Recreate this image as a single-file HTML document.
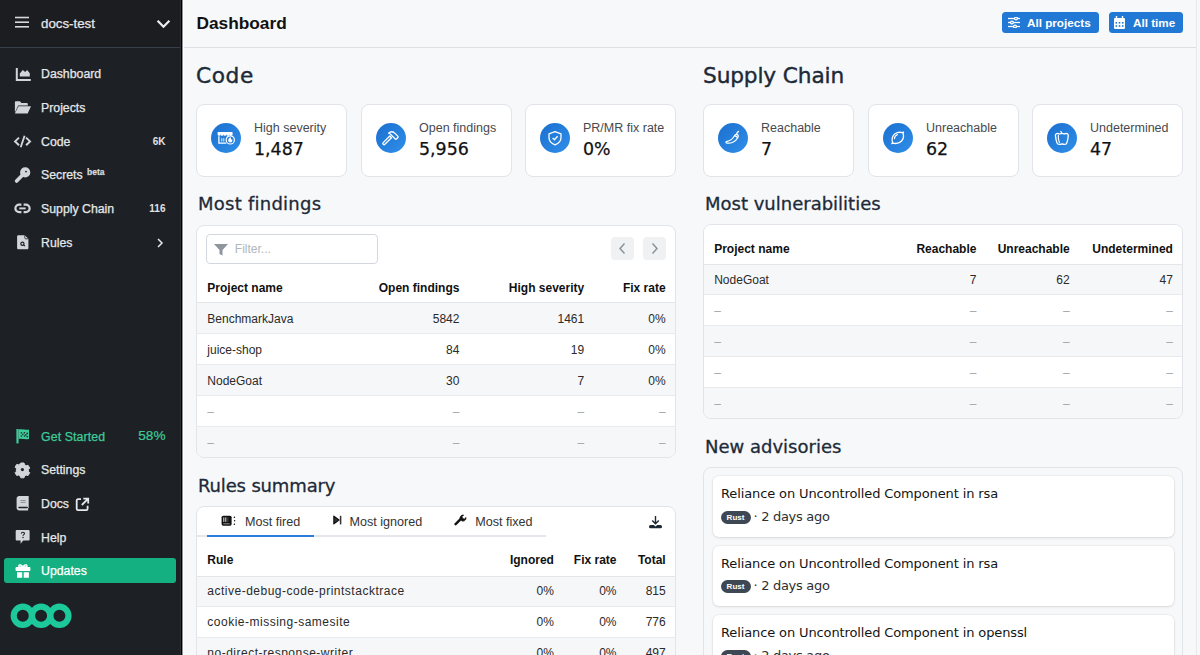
<!DOCTYPE html>
<html><head><meta charset="utf-8"><title>Dashboard</title>
<style>
*{box-sizing:border-box;margin:0;padding:0}
html,body{width:1200px;height:655px;overflow:hidden}
body{font-family:"Liberation Sans",Arial,sans-serif;background:#f7f8fa;color:#111;position:relative}
.abs{position:absolute}
/* sidebar */
#sb{position:absolute;left:0;top:0;width:181px;height:655px;background:#1d2125}
#sbline{position:absolute;left:180px;top:0;width:4px;height:655px;background:linear-gradient(90deg,#2a2e33 0,#2a2e33 1px,#000 1px,#000 2px,#8e8f90 2px,#8e8f90 3px,#fff 3px)}
#sbhead{position:absolute;left:0;top:0;width:180px;height:48px;background:#1c1d21;border-bottom:1px solid #35404c}
.nav{position:absolute;left:0;width:181px;height:24px;color:#e6e8ea;font-size:12.3px;line-height:26px;-webkit-text-stroke:.25px currentColor}
.nav .ic{position:absolute;left:14px;top:4px;width:18px;height:18px;overflow:visible}
.nav .tx{position:absolute;left:41px;top:0}
.nav .ct{position:absolute;right:15.5px;top:-.5px;font-size:10px;font-weight:bold;color:#e0e2e4;-webkit-text-stroke:0}
/* main */
#hdr{position:absolute;left:184px;top:0;width:1015px;height:48px;border-bottom:1px solid #dde0e4;background:#f7f8fa}
#scroll{position:absolute;left:1196px;top:0;width:4px;height:655px;background:#f7f8fa;border-left:1px solid #e8e9eb}
.btn{position:absolute;top:12px;height:21px;background:#2179d5;border-radius:3.5px;color:#fff;font-weight:bold;font-size:11.7px;line-height:22px}
h2{position:absolute;font-family:"DejaVu Sans",sans-serif;font-weight:normal;color:#1d2a38;-webkit-text-stroke:.4px #1d2a38;font-size:21px;line-height:26px;white-space:nowrap}
h3{position:absolute;font-family:"DejaVu Sans",sans-serif;font-weight:normal;color:#1d2a38;-webkit-text-stroke:.3px #1d2a38;font-size:18px;line-height:22px;white-space:nowrap}
.card{position:absolute;background:#fff;border:1px solid #e1e4e8;border-radius:8px}
.stat{top:104px;height:73px;width:151px}
.stat .circ{position:absolute;left:13.7px;top:18px;width:30px;height:30px;border-radius:50%;background:linear-gradient(135deg,#1b6fcf,#2f8fe9)}
.stat .circ svg{position:absolute;left:0;top:0;width:30px;height:30px}
.stat .lb{position:absolute;left:57px;top:16px;font-size:12.5px;color:#474a4e;white-space:nowrap}
.stat .val{position:absolute;left:57px;top:34.4px;font-family:"DejaVu Sans",sans-serif;font-size:17.4px;line-height:20px;color:#111;white-space:nowrap;-webkit-text-stroke:.25px #111}
table{border-collapse:collapse;width:100%;font-size:12px}
td,th{padding:0 10px;height:31px;white-space:nowrap;text-align:right}
th{font-weight:bold;color:#111;border-bottom:1.5px solid #e4e7ea}
td{color:#2c2c2c;border-bottom:1px solid #e9ebee}
td:first-child,th:first-child{text-align:left}
tr.s td{background:#f6f7f9}
td.d{color:#9aa0a6}

.tr{position:absolute;left:0;width:480px;border-bottom:1px solid #e8eaed;font-size:12px;color:#2a2a2a}
.tr.last{border-bottom:0}
.tr.th{border-bottom:1.5px solid #e3e6e9;font-weight:bold;color:#111;background:#fff}
.c{position:absolute;top:50%;transform:translateY(-50%);white-space:nowrap;line-height:14px}
.c.d{color:#a3a8ad}
.filter{position:absolute;left:8.5px;top:8px;width:172.5px;height:30px;border:1px solid #d3d8de;border-radius:4px;font-size:12px;line-height:14px}
.pg{position:absolute;top:11px;width:23px;height:23px;background:#eff1f3;border-radius:4px}
.pg svg{display:block}
.tab{position:absolute;top:7.5px;font-size:12.6px;line-height:15px;color:#333;white-space:nowrap}
.adv{position:absolute;left:8.5px;width:461px;height:60.5px;background:#fff;border-radius:6px;box-shadow:0 0 0 1px rgba(0,0,0,.03),0 1px 3px rgba(0,0,0,.1)}
.adv .t{position:absolute;left:8.5px;top:10px;font-family:"DejaVu Sans",sans-serif;font-size:13px;letter-spacing:-.12px;color:#151515;white-space:nowrap;line-height:16px}
.adv .b{position:absolute;left:8px;top:34.5px;width:30px;height:13px;border-radius:7px;background:#3e4854;color:#fff;font-size:8px;font-weight:bold;line-height:13px;text-align:center}
.adv .m{position:absolute;left:41px;top:32.5px;font-family:"DejaVu Sans",sans-serif;font-size:13px;letter-spacing:-.3px;color:#2e2e2e;white-space:nowrap;line-height:16px}
</style></head><body>
<div id="sb"></div>
<div id="sbhead"></div>
<div id="sbline"></div>

<!-- sidebar header -->
<svg class="abs" style="left:15px;top:16px" width="15" height="13" viewBox="0 0 15 13"><g stroke="#d6d8da" stroke-width="1.6"><line x1="0" y1="1.5" x2="14" y2="1.5"/><line x1="0" y1="6.2" x2="14" y2="6.2"/><line x1="0" y1="10.8" x2="14" y2="10.8"/></g></svg>
<div class="abs" style="left:41px;top:15px;font-size:13.3px;line-height:18px;color:#e6e8ea;-webkit-text-stroke:.25px #e6e8ea">docs-test</div>
<svg class="abs" style="left:156px;top:19px" width="15" height="10" viewBox="0 0 15 10"><path d="M1.6 1.8L7.5 7.7l5.9-5.9" fill="none" stroke="#eceef0" stroke-width="2.3"/></svg>

<!-- nav -->
<div class="nav" style="top:61px"><svg class="ic" viewBox="0 0 18 18"><g transform="translate(.8 0)"><path d="M2 3v11.9h14" fill="none" stroke="#d2d5d9" stroke-width="2"/><path d="M5 11.6V8.4L8 4.9l2.4 2.1 1.9-2.1L15 8.2v3.4z" fill="#d2d5d9"/></g></svg><span class="tx">Dashboard</span></div>
<div class="nav" style="top:95px"><svg class="ic" viewBox="0 0 18 18"><path d="M.9 13.5V3.3c0-.6.5-1.1 1.1-1.1h3.8l1.7 1.7h5.2c.6 0 1.1.5 1.1 1.1v1.6H4.2z" fill="#d2d5d9"/><path d="M4.5 7.2H17l-3.3 7.4H.9z" fill="#d2d5d9"/></svg><span class="tx">Projects</span></div>
<div class="nav" style="top:129px"><svg class="ic" viewBox="0 0 18 18"><path d="M5 4.6L1.1 8.4 5 12.2M12.1 4.6L16 8.4l-3.9 3.8" fill="none" stroke="#d2d5d9" stroke-width="2"/><path d="M10.6 2.8L6.7 14.2" stroke="#d2d5d9" stroke-width="1.9"/></svg><span class="tx">Code</span><span class="ct">6K</span></div>
<div class="nav" style="top:162px"><svg class="ic" viewBox="0 0 18 18"><circle cx="11.2" cy="6.4" r="5.1" fill="#d2d5d9"/><circle cx="12" cy="5.6" r=".9" fill="#1e2226"/><path d="M8.3 9.3L2.6 15" stroke="#d2d5d9" stroke-width="3.6" stroke-linecap="round"/></svg><span class="tx">Secrets</span><span class="abs" style="left:87px;top:-3px;font-size:8.5px;font-weight:bold;color:#d8dadc">beta</span></div>
<div class="nav" style="top:196px"><svg class="ic" viewBox="0 0 18 18"><path d="M7.4 4.6H5.2a3.8 3.8 0 0 0 0 7.6h2.2M9.6 4.6h2.2a3.8 3.8 0 0 1 0 7.6H9.6" fill="none" stroke="#d2d5d9" stroke-width="2.2"/><path d="M5.3 8.4h6.4" stroke="#d2d5d9" stroke-width="1.9"/></svg><span class="tx">Supply Chain</span><span class="ct">116</span></div>
<div class="nav" style="top:230px"><svg class="ic" viewBox="0 0 18 18"><path d="M4.4 1.2h6.4l3.6 3.6v9.1c0 .7-.6 1.3-1.3 1.3H4.4c-.7 0-1.3-.6-1.3-1.3V2.5c0-.7.6-1.3 1.3-1.3z" fill="#d2d5d9"/><path d="M10.8 1.2v2.8c0 .4.4.8.8.8h2.8" fill="none" stroke="#1e2226" stroke-width=".8"/><circle cx="8.4" cy="9.7" r="1.6" fill="none" stroke="#1e2226" stroke-width="1.2"/><path d="M9.6 10.9l1.3 1.3" stroke="#1e2226" stroke-width="1.2"/></svg><span class="tx">Rules</span><svg class="abs" style="left:156px;top:8px" width="8" height="10" viewBox="0 0 8 10"><path d="M2 1l4 4-4 4" fill="none" stroke="#e6e8ea" stroke-width="1.5"/></svg></div>

<div class="nav" style="top:424px;color:#3ecb99"><svg class="ic" viewBox="0 0 18 18"><path d="M3.5 1v14.4" stroke="#3ecb99" stroke-width="2.2"/><path d="M4.6 1.6c3.5-.9 6.9.8 10.4 0v9.4c-3.5.9-6.9-.8-10.4 0z" fill="#3ecb99"/><g fill="#1e2226"><circle cx="7.3" cy="4.7" r=".8"/><circle cx="10.4" cy="4.7" r=".8"/><circle cx="13.2" cy="5.4" r=".8"/><circle cx="8.8" cy="6.2" r=".8"/><circle cx="11.8" cy="6.9" r=".8"/><circle cx="7.3" cy="8" r=".8"/><circle cx="10.4" cy="8" r=".8"/><circle cx="13.2" cy="8.6" r=".8"/></g></svg><span class="tx" style="letter-spacing:.12px">Get Started</span><span class="ct" style="font-size:13.6px;font-weight:normal;color:#3ecb99;right:15.5px;top:-1px;-webkit-text-stroke:.2px #3ecb99">58%</span></div>
<div class="nav" style="top:457px"><svg class="ic" viewBox="0 0 18 18"><g transform="translate(8.4 8.6)"><path d="M-1.6-6.6h3.2l.6 1.8 1.6.9 1.9-.4 1.6 2.8-1.3 1.4v1.8l1.3 1.4-1.6 2.8-1.9-.4-1.6.9-.6 1.8h-3.2l-.6-1.8-1.6-.9-1.9.4-1.6-2.8 1.3-1.4V-1l-1.3-1.4 1.6-2.8 1.9.4 1.6-.9z" fill="#d2d5d9" stroke="#d2d5d9" stroke-width="1" stroke-linejoin="round"/><circle r="1.6" fill="#1e2226"/></g></svg><span class="tx">Settings</span></div>
<div class="nav" style="top:491px"><svg class="ic" viewBox="0 0 18 18"><path d="M5.2 1.1h9.5v11.6c0 .4-.3.6-.6.7v2h.6v0H5.2c-1.4 0-2.6-1.1-2.6-2.6V3.7c0-1.4 1.2-2.6 2.6-2.6z" fill="#d2d5d9"/><path d="M6.5 5.5h5.2M6.5 7.4h5.2" stroke="#8d9196" stroke-width="1"/><path d="M5 12.5h8.2" stroke="#1e2226" stroke-width="1.4" stroke-linecap="round"/></svg><span class="tx">Docs</span><svg class="abs" style="left:75px;top:5.5px" width="15" height="15" viewBox="0 0 15 15"><path d="M6 2.2H3A1.3 1.3 0 0 0 1.7 3.5v8.3A1.3 1.3 0 0 0 3 13.1h8.3a1.3 1.3 0 0 0 1.3-1.3V8.8" fill="none" stroke="#e6e8ea" stroke-width="1.8"/><path d="M8.3 1.6h4.9v4.9M13.2 1.6L6.8 8" fill="none" stroke="#e6e8ea" stroke-width="1.8"/></svg></div>
<div class="nav" style="top:525px"><svg class="ic" viewBox="0 0 18 18"><path d="M2.9 1.1h11.5c.7 0 1.2.5 1.2 1.2v8.1c0 .7-.5 1.2-1.2 1.2H9.2l-2.6 3.1v-3.1H2.9c-.7 0-1.2-.5-1.2-1.2V2.3c0-.7.5-1.2 1.2-1.2z" fill="#d2d5d9"/><path d="M7.2 4.6c.1-1 .9-1.4 1.7-1.4.9 0 1.6.6 1.6 1.3 0 1.1-1.5 1.1-1.5 2.3" fill="none" stroke="#1e2226" stroke-width="1.1"/><circle cx="9" cy="8.5" r=".75" fill="#1e2226"/></svg><span class="tx">Help</span></div>
<div class="abs" style="left:4px;top:558px;width:172px;height:25px;background:#14b082;border-radius:3px"></div>
<div class="nav" style="top:558px;height:25px;line-height:25px;color:#fff"><svg class="ic" style="top:5px" viewBox="0 0 18 18"><path d="M2 4.5h13.9v3H2z" fill="#fff" stroke="#fff" stroke-width="1" stroke-linejoin="round"/><path d="M3 9.2h5.2v5.6H3zM9.7 9.2h5.2v5.6H9.7z" fill="#fff"/><path d="M8.9 4.3C7.9 1.8 5.2 1.2 4.8 2.6c-.3 1.1 1.3 1.9 4.1 1.9 2.8 0 4.4-.8 4.1-1.9-.4-1.4-3.1-.8-4.1 1.7z" fill="none" stroke="#fff" stroke-width="1.4"/></svg><span class="tx" style="top:1px">Updates</span></div>
<!-- logo -->
<svg class="abs" style="left:10px;top:602.5px" width="63" height="26" viewBox="0 0 63 26"><g fill="none" stroke="#1dc89b" stroke-width="6.2"><circle cx="12.8" cy="12.8" r="9.1"/><circle cx="31.1" cy="12.8" r="9.1"/><circle cx="49.4" cy="12.8" r="9.1"/></g></svg>

<!-- main header -->
<div id="hdr"></div>
<div id="scroll"></div>
<div class="abs" style="left:196.5px;top:11.6px;font-size:17.3px;font-weight:bold;line-height:22px;color:#111">Dashboard</div>
<div class="btn" style="left:1002px;width:97px"><svg class="abs" style="left:6px;top:5px" width="12" height="11" viewBox="0 0 12 11"><g stroke="#fff" stroke-width="1.3" fill="#1f79d4"><line x1="0" y1="1.5" x2="12" y2="1.5"/><line x1="0" y1="5.5" x2="12" y2="5.5"/><line x1="0" y1="9.5" x2="12" y2="9.5"/><circle cx="8" cy="1.5" r="1.4"/><circle cx="4" cy="5.5" r="1.4"/><circle cx="7" cy="9.5" r="1.4"/></g></svg><span class="abs" style="left:25px">All projects</span></div>
<div class="btn" style="left:1109px;width:74px"><svg class="abs" style="left:5px;top:4px" width="11" height="13" viewBox="0 0 11 13"><path d="M0 3a1 1 0 0 1 1-1h9a1 1 0 0 1 1 1v9a1 1 0 0 1-1 1H1a1 1 0 0 1-1-1z" fill="#fff"/><path d="M2.5 0v3M8.5 0v3" stroke="#fff" stroke-width="1.4"/><g fill="#1f79d4"><rect x="1.5" y="6" width="1.6" height="1.6"/><rect x="4.7" y="6" width="1.6" height="1.6"/><rect x="7.9" y="6" width="1.6" height="1.6"/><rect x="1.5" y="9.2" width="1.6" height="1.6"/><rect x="4.7" y="9.2" width="1.6" height="1.6"/><rect x="7.9" y="9.2" width="1.6" height="1.6"/></g></svg><span class="abs" style="left:24px">All time</span></div>

<!-- Code section -->
<h2 style="left:196px;top:63.3px;font-size:21.7px;letter-spacing:.6px">Code</h2>
<h2 style="left:703px;top:63.3px;font-size:21.7px;letter-spacing:-.14px">Supply Chain</h2>

<div class="card stat" style="left:196px"><div class="circ"><svg viewBox="0 0 30 30"><path d="M6.9 9.1h14.2c.3 0 .5.2.5.5v1.7a1.5 1.5 0 0 1-3 0 1.5 1.5 0 0 1-3 0 1.5 1.5 0 0 1-3 0 1.5 1.5 0 0 1-3 0 1.5 1.5 0 0 1-3 0V9.6c0-.3.2-.5.5-.5z" fill="#fff"/><path d="M7.9 13.2v7h7.4" fill="none" stroke="#fff" stroke-width="1.3"/><path d="M10.8 15.2v3.3M12.8 15.2v3.3" stroke="#fff" stroke-width=".9"/><circle cx="19.3" cy="16.9" r="4.1" fill="#2882de" stroke="#fff" stroke-width="1.2"/><path d="M19.3 14.1c-1.3 1.3-2.1 2.3-2.1 3.3a2.1 2.1 0 0 0 4.2 0c0-.5-.2-1-.5-1.4-.3.5-.7.7-1 .6.3-.9 0-1.7-.6-2.5z" fill="#fff"/></svg></div><div class="lb">High severity</div><div class="val">1,487</div></div>
<div class="card stat" style="left:361px"><div class="circ"><svg viewBox="0 0 30 30"><path d="M7.2 19.6l6.6-6.6 1.7 1.7-6.6 6.6a1.2 1.2 0 0 1-1.7-1.7z" fill="none" stroke="#fff" stroke-width="1.3" stroke-linejoin="round"/><path d="M12.6 10.2c1.6-1.6 4.2-1.7 5.9-.3l3.2 3.2c.5.5.5 1.2 0 1.7l-1 1c-.5.5-1.2.5-1.7 0l-5.9-5.9z" fill="none" stroke="#fff" stroke-width="1.3" stroke-linejoin="round"/></svg></div><div class="lb">Open findings</div><div class="val">5,956</div></div>
<div class="card stat" style="left:525px"><div class="circ"><svg viewBox="0 0 30 30"><path d="M15 8.6l6 2.3v3.7c0 3.5-2.5 6-6 7.3-3.5-1.3-6-3.8-6-7.3v-3.7z" fill="none" stroke="#fff" stroke-width="1.3" stroke-linejoin="round"/><path d="M12.6 14.9l1.8 1.8 3.2-3.4" fill="none" stroke="#fff" stroke-width="1.3"/></svg></div><div class="lb">PR/MR fix rate</div><div class="val">0%</div></div>

<div class="card stat" style="left:703px"><div class="circ"><svg viewBox="0 0 30 30"><path d="M8.3 19.9c3.2 1 9.2-.3 11.7-5.6.8-1.7-.2-3.2-1.7-2.9-1.3.3-1.9 1.3-2.5 2.3-1.6 2.7-4.3 4.2-6.9 4.6-1 .2-1.3 1.3-.6 1.6z" fill="none" stroke="#fff" stroke-width="1.25" stroke-linejoin="round"/><path d="M18.6 11.3c.2-1.4 1-2.4 2-2.9M16.6 12.6c1.1.3 2.2.9 3 2" fill="none" stroke="#fff" stroke-width="1.2" stroke-linecap="round"/></svg></div><div class="lb">Reachable</div><div class="val">7</div></div>
<div class="card stat" style="left:868px"><div class="circ"><svg viewBox="0 0 30 30"><path d="M8.8 20.7l.8-1.5c-1.3-2.7-.1-6.7 2.4-8.4 2.3-1.5 5-1.8 7.2-1.2l1.4-.5-.5 1.5c.8 2.4.1 5.4-1.6 7.4-2 2.2-5.8 3-8.2 2.1z" fill="none" stroke="#fff" stroke-width="1.3" stroke-linejoin="round"/><path d="M11.4 15.6c.2-2 1.5-3.5 3.2-4.2" fill="none" stroke="#fff" stroke-width="1.1" stroke-linecap="round"/></svg></div><div class="lb">Unreachable</div><div class="val">62</div></div>
<div class="card stat" style="left:1032px"><div class="circ"><svg viewBox="0 0 30 30"><path d="M8.4 12.4c-.2-1.7 2.3-2.4 4.3-1.4 1.2-.6 3.2-.6 4.4 0 2-1 4.4-.3 4.2 1.4-.2 2.7-.6 5.7-1.8 8.3-1.4 1-3 .7-4.2.2-1.4.5-3.4.8-4.9-.2-1.2-2.6-1.8-5.6-2-8.3z" fill="none" stroke="#fff" stroke-width="1.3" stroke-linejoin="round"/><path d="M14.8 10.7c0-1-.4-1.8-1-2.4M11.3 12.4c-.2 2.7.3 5.2 1.1 7.2" fill="none" stroke="#fff" stroke-width="1.2" stroke-linecap="round"/></svg></div><div class="lb">Undetermined</div><div class="val">47</div></div>

<h3 style="left:198px;top:193.2px;letter-spacing:.25px">Most findings</h3>
<h3 style="left:705px;top:193.2px">Most vulnerabilities</h3>
<h3 style="left:198px;top:474.8px;letter-spacing:-.15px">Rules summary</h3>
<h3 style="left:705px;top:436px">New advisories</h3>

<!-- TABLES -->
<div class="card" style="left:196px;top:225px;width:480px;height:233px;overflow:hidden">
<div class="filter"><svg class="abs" style="left:7.2px;top:9px" width="14" height="12" viewBox="0 0 14 12"><path d="M0 0h14L8.5 6v5.5L5.5 10V6z" fill="#8e959c"/></svg><span class="abs" style="left:28.3px;top:7px;color:#b1b6bb">Filter...</span></div>
<div class="pg" style="left:414px"><svg width="23" height="23" viewBox="0 0 23 23"><path d="M13.5 6.5L9 11.5l4.5 5" fill="none" stroke="#8b949c" stroke-width="1.5"/></svg></div>
<div class="pg" style="left:446px"><svg width="23" height="23" viewBox="0 0 23 23"><path d="M9.5 6.5l4.5 5-4.5 5" fill="none" stroke="#8b949c" stroke-width="1.5"/></svg></div>
<div class="tr th" style="top:46px;height:31px;"><span class="c" style="left:10.3px;margin-top:1.3px;">Project name</span><span class="c r" style="right:217.6px;margin-top:1.3px;">Open findings</span><span class="c r" style="right:92.8px;margin-top:1.3px;">High severity</span><span class="c r" style="right:11.4px;margin-top:1.3px;">Fix rate</span></div>
<div class="tr" style="top:77.0px;height:30.9px;background:#f6f7f9;"><span class="c" style="left:10.3px;margin-top:1px;">BenchmarkJava</span><span class="c r" style="right:217.6px;margin-top:1px;">5842</span><span class="c r" style="right:92.8px;margin-top:1px;">1461</span><span class="c r" style="right:11.4px;margin-top:1px;">0%</span></div>
<div class="tr" style="top:107.9px;height:30.9px;"><span class="c" style="left:10.3px;margin-top:1px;">juice-shop</span><span class="c r" style="right:217.6px;margin-top:1px;">84</span><span class="c r" style="right:92.8px;margin-top:1px;">19</span><span class="c r" style="right:11.4px;margin-top:1px;">0%</span></div>
<div class="tr" style="top:138.8px;height:30.9px;background:#f6f7f9;"><span class="c" style="left:10.3px;margin-top:1px;">NodeGoat</span><span class="c r" style="right:217.6px;margin-top:1px;">30</span><span class="c r" style="right:92.8px;margin-top:1px;">7</span><span class="c r" style="right:11.4px;margin-top:1px;">0%</span></div>
<div class="tr" style="top:169.7px;height:30.9px;"><span class="c d" style="left:10.3px;margin-top:1px;">–</span><span class="c r d" style="right:217.6px;margin-top:1px;">–</span><span class="c r d" style="right:92.8px;margin-top:1px;">–</span><span class="c r d" style="right:11.4px;margin-top:1px;">–</span></div>
<div class="tr last" style="top:200.6px;height:30.9px;background:#f6f7f9;"><span class="c d" style="left:10.3px;margin-top:1px;">–</span><span class="c r d" style="right:217.6px;margin-top:1px;">–</span><span class="c r d" style="right:92.8px;margin-top:1px;">–</span><span class="c r d" style="right:11.4px;margin-top:1px;">–</span></div>
</div>
<div class="card" style="left:703px;top:224px;width:480px;height:195px;overflow:hidden">
<div class="tr th" style="top:0px;height:39.5px;"><span class="c" style="left:10.2px;margin-top:4.9px;">Project name</span><span class="c r" style="right:207.6px;margin-top:4.9px;">Reachable</span><span class="c r" style="right:114.3px;margin-top:4.9px;">Unreachable</span><span class="c r" style="right:11.1px;margin-top:4.9px;">Undetermined</span></div>
<div class="tr" style="top:39.5px;height:30.9px;background:#f6f7f9;"><span class="c" style="left:10.2px;margin-top:0.6px;">NodeGoat</span><span class="c r" style="right:207.6px;margin-top:0.6px;">7</span><span class="c r" style="right:114.3px;margin-top:0.6px;">62</span><span class="c r" style="right:11.1px;margin-top:0.6px;">47</span></div>
<div class="tr" style="top:70.4px;height:30.9px;"><span class="c d" style="left:10.2px;margin-top:0.6px;">–</span><span class="c r d" style="right:207.6px;margin-top:0.6px;">–</span><span class="c r d" style="right:114.3px;margin-top:0.6px;">–</span><span class="c r d" style="right:11.1px;margin-top:0.6px;">–</span></div>
<div class="tr" style="top:101.3px;height:30.9px;background:#f6f7f9;"><span class="c d" style="left:10.2px;margin-top:0.6px;">–</span><span class="c r d" style="right:207.6px;margin-top:0.6px;">–</span><span class="c r d" style="right:114.3px;margin-top:0.6px;">–</span><span class="c r d" style="right:11.1px;margin-top:0.6px;">–</span></div>
<div class="tr" style="top:132.2px;height:30.9px;"><span class="c d" style="left:10.2px;margin-top:0.6px;">–</span><span class="c r d" style="right:207.6px;margin-top:0.6px;">–</span><span class="c r d" style="right:114.3px;margin-top:0.6px;">–</span><span class="c r d" style="right:11.1px;margin-top:0.6px;">–</span></div>
<div class="tr last" style="top:163.1px;height:30.9px;background:#f6f7f9;"><span class="c d" style="left:10.2px;margin-top:0.6px;">–</span><span class="c r d" style="right:207.6px;margin-top:0.6px;">–</span><span class="c r d" style="right:114.3px;margin-top:0.6px;">–</span><span class="c r d" style="right:11.1px;margin-top:0.6px;">–</span></div>
</div>
<div class="card" style="left:196px;top:506px;width:480px;height:160px;overflow:hidden">
<div class="abs" style="left:0;top:28px;width:349px;height:2px;background:#e4e7eb"></div>
<div class="abs" style="left:9.8px;top:28px;width:107.2px;height:2px;background:#2b7fd8"></div>
<svg class="abs" style="left:24px;top:7.5px" width="15" height="12" viewBox="0 0 15 12"><rect x=".6" y=".7" width="10" height="10" rx="1.6" fill="#111"/><path d="M2.8 2.4v4.5M4.8 2.4v4.5" stroke="#fff" stroke-width=".9"/><path d="M2.3 8.8h6.4" stroke="#fff" stroke-width=".7" opacity=".8"/><path d="M6.9 2.4v4.5" stroke="#555" stroke-width=".9"/><g fill="#111"><circle cx="13.4" cy="2.2" r=".75"/><circle cx="13.6" cy="5.7" r=".75"/><circle cx="13.4" cy="9.2" r=".75"/></g></svg>
<span class="tab" style="left:48px">Most fired</span>
<svg class="abs" style="left:136px;top:8px" width="9" height="10" viewBox="0 0 9 10"><path d="M.9 1.2L6 5 .9 8.8z" fill="#333" stroke="#111" stroke-width="1.3" stroke-linejoin="round"/><path d="M7.6 .8v8.6" stroke="#333" stroke-width="1.5"/></svg>
<span class="tab" style="left:152.4px">Most ignored</span>
<svg class="abs" style="left:257px;top:6.5px" width="13" height="12" viewBox="0 0 13 12"><path d="M1.6 10.2l5-5" stroke="#111" stroke-width="2.4" stroke-linecap="round"/><path d="M6.3 5.6C5.3 3.3 7 .8 9.6 1.1L8 2.7l.6 1.8 1.8.6 1.6-1.6c.3 2.6-2.2 4.3-4.5 3.3" fill="#111" stroke="#111" stroke-width=".8"/></svg>
<span class="tab" style="left:278.2px">Most fixed</span>
<svg class="abs" style="left:451px;top:7.5px" width="15" height="14" viewBox="0 0 15 14"><path d="M7.5 1v7.6M4.2 5.5l3.3 3.2 3.3-3.2" fill="none" stroke="#1d2733" stroke-width="1.4"/><path d="M2.6 10h3.2l1.7 1.5L9.2 10h3.2a1.6 1.6 0 0 1 0 3.3H2.6a1.6 1.6 0 0 1 0-3.3z" fill="#1d2733"/></svg>
<div class="tr th" style="top:38px;height:31.5px;"><span class="c" style="left:10.3px;">Rule</span><span class="c r" style="right:123.1px;">Ignored</span><span class="c r" style="right:60.5px;">Fix rate</span><span class="c r" style="right:11.3px;">Total</span></div>
<div class="tr" style="top:69.5px;height:30.8px;background:#f6f7f9;"><span class="c" style="left:10.3px;letter-spacing:0.5px;">active-debug-code-printstacktrace</span><span class="c r" style="right:123.1px;">0%</span><span class="c r" style="right:60.5px;">0%</span><span class="c r" style="right:11.3px;">815</span></div>
<div class="tr" style="top:100.3px;height:30.8px;"><span class="c" style="left:10.3px;letter-spacing:0.5px;">cookie-missing-samesite</span><span class="c r" style="right:123.1px;">0%</span><span class="c r" style="right:60.5px;">0%</span><span class="c r" style="right:11.3px;">776</span></div>
<div class="tr" style="top:131.1px;height:30.8px;background:#f6f7f9;"><span class="c" style="left:10.3px;letter-spacing:0.5px;">no-direct-response-writer</span><span class="c r" style="right:123.1px;">0%</span><span class="c r" style="right:60.5px;">0%</span><span class="c r" style="right:11.3px;">497</span></div>
</div>
<!-- /TABLES -->
<div class="card" style="left:703px;top:467px;width:480px;height:200px;background:#f7f8fa;overflow:hidden">
<div class="adv" style="top:8.0px"><div class="t">Reliance on Uncontrolled Component in rsa</div><div class="b">Rust</div><div class="m">· 2 days ago</div></div>
<div class="adv" style="top:77.5px"><div class="t">Reliance on Uncontrolled Component in rsa</div><div class="b">Rust</div><div class="m">· 2 days ago</div></div>
<div class="adv" style="top:147.0px"><div class="t">Reliance on Uncontrolled Component in openssl</div><div class="b">Rust</div><div class="m">· 2 days ago</div></div>
</div>
</body></html>
